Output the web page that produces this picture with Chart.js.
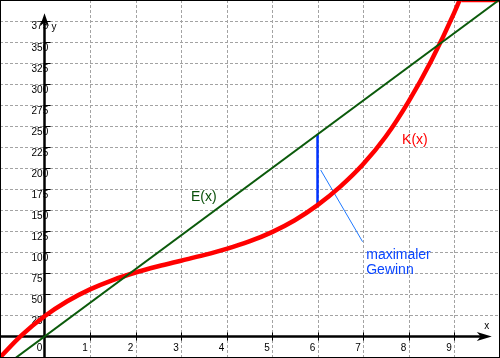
<!DOCTYPE html>
<html><head><meta charset="utf-8">
<script src="https://cdn.jsdelivr.net/npm/chart.js@4/dist/chart.umd.min.js"></script>
<style>html,body{margin:0;padding:0;background:#fff;overflow:hidden}#wrap{width:500px;height:358px;position:relative}</style>
</head><body><div id="wrap"><canvas id="c"></canvas></div>
<script>
// Kostenfunktion K(x)
const kX = [-1, -0.5, 0, 0.5, 1, 1.5, 2, 2.5, 3, 3.5, 4, 4.5, 5, 5.5, 6, 6.5, 7, 7.5, 8, 8.5, 9, 9.5];
const kY = [-26, 1.6, 24, 41.9, 56, 67.1, 76, 83.4, 90, 96.6, 104, 112.9, 124, 138.1, 156, 178, 204.5, 237.5, 279, 327.5, 384, 449.1];
// red trace running along the top edge after K(x) leaves the picture
const kTopX = [9.16, 10.1];
const kTopY = [398.5, 398.5];
// Erlösfunktion E(x)
const eX = [-1, 10.1];
const eY = [-40, 404];
// maximaler Gewinn at x = 6
const gainX = [6, 6];
const gainY = [156, 240];
// pointer from the gain segment to the caption
const pointerX = [6.07, 6.99];
const pointerY = [197.7, 112.6];
// axis ticks
const xTickLabels = [0, 1, 2, 3, 4, 5, 6, 7, 8, 9];
const yTickLabels = [25, 50, 75, 100, 125, 150, 175, 200, 225, 250, 275, 300, 325, 350, 375];
// text labels
const texts = [
  {t: 'K(x)', x: 8.14, y: 233, c: '#ff0000', f: '14px "Liberation Sans", Arial, sans-serif', a: 'center'},
  {t: 'E(x)', x: 3.5, y: 166, c: '#0a500a', f: '14px "Liberation Sans", Arial, sans-serif', a: 'center'},
  {t: 'maximaler', x: 7.07, y: 96.8, c: '#0a46ff', f: '14px "Liberation Sans", Arial, sans-serif', a: 'left'},
  {t: 'Gewinn', x: 7.07, y: 79, c: '#0a46ff', f: '14px "Liberation Sans", Arial, sans-serif', a: 'left'}
];

const X_MIN = -0.978, X_MAX = 10.01, Y_MIN = -25.5, Y_MAX = 399.6;

const pts = (xs, ys) => xs.map((x, i) => ({x, y: ys[i]}));

const axesPlugin = {
  id: 'axesPlugin',
  beforeDatasetsDraw(chart) {
    const ctx = chart.ctx, xs = chart.scales.x, ys = chart.scales.y, a = chart.chartArea;
    ctx.save();
    // dashed grid
    ctx.strokeStyle = '#a3a3a3';
    ctx.lineWidth = 1;
    ctx.setLineDash([3, 2]);
    xTickLabels.forEach(v => {
      if (v === 0) return;
      const p = Math.round(xs.getPixelForValue(v)) + 0.5;
      ctx.beginPath(); ctx.moveTo(p, a.top); ctx.lineTo(p, a.bottom); ctx.stroke();
    });
    yTickLabels.forEach(v => {
      const p = Math.round(ys.getPixelForValue(v)) + 0.5;
      ctx.beginPath(); ctx.moveTo(a.left, p); ctx.lineTo(a.right, p); ctx.stroke();
    });
    ctx.setLineDash([]);
    // axes
    const x0 = xs.getPixelForValue(0), y0 = ys.getPixelForValue(0);
    const xTip = xs.getPixelForValue(9.83), yTip = ys.getPixelForValue(384);
    ctx.strokeStyle = '#000'; ctx.fillStyle = '#000';
    ctx.lineWidth = 2.5;
    ctx.beginPath(); ctx.moveTo(a.left, y0); ctx.lineTo(xTip - 6, y0); ctx.stroke();
    ctx.beginPath(); ctx.moveTo(x0, a.bottom); ctx.lineTo(x0, yTip + 6); ctx.stroke();
    // arrow heads
    ctx.beginPath();
    ctx.moveTo(xTip, y0); ctx.lineTo(xTip - 15, y0 - 4.5); ctx.lineTo(xTip - 11, y0); ctx.lineTo(xTip - 15, y0 + 4.5); ctx.closePath(); ctx.fill();
    ctx.beginPath();
    ctx.moveTo(x0, yTip); ctx.lineTo(x0 - 4.5, yTip + 13); ctx.lineTo(x0, yTip + 9); ctx.lineTo(x0 + 4.5, yTip + 13); ctx.closePath(); ctx.fill();
    // tick marks
    ctx.lineWidth = 1;
    xTickLabels.forEach(v => {
      if (v === 0) return;
      const p = Math.round(xs.getPixelForValue(v)) + 0.5;
      ctx.beginPath(); ctx.moveTo(p, y0 - 4); ctx.lineTo(p, y0 + 4); ctx.stroke();
    });
    yTickLabels.forEach(v => {
      const p = Math.round(ys.getPixelForValue(v)) + 0.5;
      ctx.beginPath(); ctx.moveTo(x0 - 1, p); ctx.lineTo(x0 + 6, p); ctx.stroke();
    });
    // tick labels
    ctx.font = '10px "Liberation Sans", Arial, sans-serif';
    ctx.textBaseline = 'middle';
    ctx.textAlign = 'center';
    xTickLabels.forEach(v => {
      ctx.fillText(String(v), xs.getPixelForValue(v) - 5, y0 + 12);
    });
    ctx.textAlign = 'left';
    yTickLabels.forEach(v => {
      ctx.fillText(String(v), x0 - 13, ys.getPixelForValue(v) + 6);
    });
    ctx.fillText('y', x0 + 7, yTip + 14);
    ctx.textAlign = 'center';
    ctx.fillText('x', xTip - 5, y0 - 10);
    ctx.restore();
  },
  afterDatasetsDraw(chart) {
    const ctx = chart.ctx, xs = chart.scales.x, ys = chart.scales.y;
    ctx.save();
    ctx.textBaseline = 'middle';
    texts.forEach(o => {
      ctx.font = o.f; ctx.fillStyle = o.c; ctx.textAlign = o.a;
      ctx.fillText(o.t, xs.getPixelForValue(o.x), ys.getPixelForValue(o.y));
    });
    ctx.strokeStyle = '#000'; ctx.lineWidth = 1;
    ctx.strokeRect(0.5, 0.5, chart.width - 1, chart.height - 1);
    ctx.restore();
  }
};

new Chart(document.getElementById('c'), {
  type: 'scatter',
  data: {
    datasets: [
      {label: 'E(x)', data: pts(eX, eY), showLine: true, borderColor: '#0b5a0b', borderWidth: 2, pointRadius: 0},
      {label: 'K(x)', data: pts(kX, kY), showLine: true, borderColor: '#ff0000', borderWidth: 4.5, pointRadius: 0, cubicInterpolationMode: 'monotone'},
      {label: 'K top', data: pts(kTopX, kTopY), showLine: true, borderColor: '#ff0000', borderWidth: 2.5, pointRadius: 0, clip: false},
      {label: 'Gewinn', data: pts(gainX, gainY), showLine: true, borderColor: '#0033ff', borderWidth: 2.5, pointRadius: 0},
      {label: 'pointer', data: pts(pointerX, pointerY), showLine: true, borderColor: '#1e78ff', borderWidth: 1, pointRadius: 0}
    ]
  },
  options: {
    responsive: true,
    maintainAspectRatio: false,
    animation: false,
    events: [],
    layout: {padding: 0},
    plugins: {legend: {display: false}, tooltip: {enabled: false}},
    scales: {
      x: {type: 'linear', min: X_MIN, max: X_MAX, display: false},
      y: {type: 'linear', min: Y_MIN, max: Y_MAX, display: false}
    }
  },
  plugins: [axesPlugin]
});
</script>
</body></html>
